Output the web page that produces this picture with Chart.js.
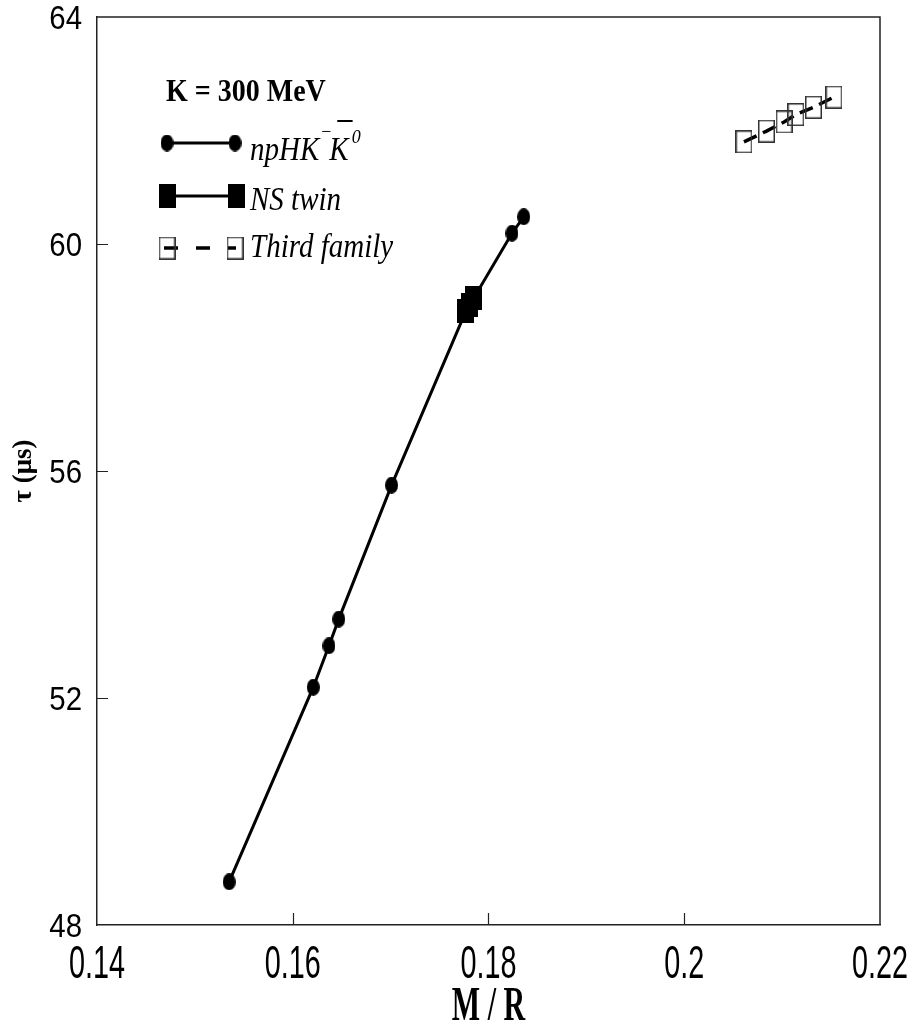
<!DOCTYPE html>
<html>
<head>
<meta charset="utf-8">
<script src="https://cdn.jsdelivr.net/npm/chart.js@4.4.0/dist/chart.umd.min.js"></script>
<style>
    html, body { margin: 0; padding: 0; background: #fff; }
    #wrap { width: 913px; height: 1033px; }
</style>
</head>
<body>
<div id="wrap"><canvas id="chart" width="913" height="1033"></canvas></div>
<script>
// tau vs M/R, K = 300 MeV
const mrNpHK = [0.1535, 0.1621, 0.1637, 0.1647, 0.1701, 0.1777, 0.1785, 0.1824, 0.1836];
const tauNpHK = [48.76, 52.19, 52.92, 53.39, 55.75, 58.82, 59.05, 60.19, 60.48];

const mrTwin = [0.1777, 0.1781, 0.1785];
const tauTwin = [58.82, 58.93, 59.05];

const mrThird = [0.2061, 0.2084, 0.2102, 0.2114, 0.2132, 0.2153];
const tauThird = [61.80, 61.99, 62.15, 62.28, 62.41, 62.59];

const xTickValues = [0.14, 0.16, 0.18, 0.2, 0.22];
const xTickLabels = ['0.14', '0.16', '0.18', '0.2', '0.22'];
const yTickValues = [48, 52, 56, 60, 64];
const yTickLabels = ['48', '52', '56', '60', '64'];

function toPoints(xs, ys) {
    return xs.map((x, i) => ({ x: x, y: ys[i] }));
}

function makeMarker(w, h, draw) {
    const c = document.createElement('canvas');
    c.width = w;
    c.height = h;
    draw(c.getContext('2d'), w, h);
    return c;
}

const dot = makeMarker(13, 17, (g, w, h) => {
    g.fillStyle = '#000';
    g.beginPath();
    g.ellipse(w / 2, h / 2, w / 2, h / 2, 0, 0, Math.PI * 2);
    g.fill();
});
const solidBox = makeMarker(17, 24, (g, w, h) => {
    g.fillStyle = '#000';
    g.fillRect(0, 0, w, h);
});
const openBox = makeMarker(17, 23, (g, w, h) => {
    g.strokeStyle = '#333';
    g.lineWidth = 1.5;
    g.strokeRect(0.75, 0.75, w - 1.5, h - 1.5);
});

// the original figure uses tall, condensed lettering
function stretchedText(ctx, text, x, y, font, sx, sy, align) {
    ctx.save();
    ctx.translate(x, y);
    ctx.scale(sx, sy);
    ctx.font = font;
    ctx.textAlign = align || 'left';
    ctx.fillText(text, 0, 0);
    const w = ctx.measureText(text).width * sx;
    ctx.restore();
    return w;
}

// frame, inward ticks, tick labels, x title and the legend inside the plot
const framePlugin = {
    id: 'frame',
    afterDraw(chart) {
        const ctx = chart.ctx;
        const a = chart.chartArea;
        const xs = chart.scales.x;
        const ys = chart.scales.y;

        ctx.save();
        ctx.strokeStyle = '#222';
        ctx.lineWidth = 1.5;
        ctx.beginPath();
        ctx.moveTo(a.left, a.top);
        ctx.lineTo(a.right, a.top);
        ctx.lineTo(a.right, a.bottom);
        ctx.stroke();

        ctx.lineWidth = 1.2;
        ctx.beginPath();
        yTickValues.slice(1, -1).forEach(v => {
            const py = Math.round(ys.getPixelForValue(v)) + 0.5;
            ctx.moveTo(a.left, py);
            ctx.lineTo(a.left + 11, py);
        });
        xTickValues.slice(1, -1).forEach(v => {
            const px = Math.round(xs.getPixelForValue(v)) + 0.5;
            ctx.moveTo(px, a.bottom);
            ctx.lineTo(px, a.bottom - 12);
        });
        ctx.stroke();

        ctx.fillStyle = '#000';
        ctx.strokeStyle = '#000';
        ctx.textBaseline = 'alphabetic';

        const tickFont = '32px "Liberation Sans"';
        yTickValues.forEach((v, i) => {
            const py = ys.getPixelForValue(v);
            stretchedText(ctx, yTickLabels[i], a.left - 15, py + 12, tickFont, 0.92, 1.05, 'right');
        });
        xTickValues.forEach((v, i) => {
            const px = xs.getPixelForValue(v);
            stretchedText(ctx, xTickLabels[i], px, a.bottom + 53, '36px "Liberation Sans"', 0.8, 1.3, 'center');
        });

        stretchedText(ctx, 'M / R', (a.left + a.right) / 2, 1020, 'bold 30px "Liberation Serif"', 1, 1.6, 'center');

        // legend
        stretchedText(ctx, 'K = 300 MeV', 166, 101, 'bold 28px "Liberation Serif"', 1, 1.1);

        const it = 'italic 29px "Liberation Serif"';
        const sup = 'italic 18px "Liberation Serif"';

        // row 1
        ctx.lineWidth = 3;
        ctx.setLineDash([]);
        ctx.beginPath();
        ctx.moveTo(167, 143);
        ctx.lineTo(235, 143);
        ctx.stroke();
        ctx.drawImage(dot, 167 - 6.5, 143 - 8.5);
        ctx.drawImage(dot, 235 - 6.5, 143 - 8.5);
        const w = stretchedText(ctx, 'npHK', 250, 160, it, 1, 1.15);
        stretchedText(ctx, '\u2212', 250 + w + 1, 138, sup, 1, 1.1);
        const kx = 250 + w + 10;
        const kw = stretchedText(ctx, 'K', kx, 160, it, 1, 1.15);
        ctx.lineWidth = 2;
        ctx.beginPath();
        ctx.moveTo(kx + 8, 121);
        ctx.lineTo(kx + kw + 4, 121);
        ctx.stroke();
        stretchedText(ctx, '0', kx + kw + 3, 143, sup, 1, 1.1);

        // row 2
        ctx.lineWidth = 3;
        ctx.beginPath();
        ctx.moveTo(167, 196);
        ctx.lineTo(236, 196);
        ctx.stroke();
        ctx.drawImage(solidBox, 167 - 8.5, 196 - 12);
        ctx.drawImage(solidBox, 236 - 8.5, 196 - 12);
        stretchedText(ctx, 'NS twin', 250, 210, it, 1, 1.15);

        // row 3
        ctx.lineWidth = 3.5;
        ctx.setLineDash([14, 18]);
        ctx.beginPath();
        ctx.moveTo(164, 248);
        ctx.lineTo(236, 248);
        ctx.stroke();
        ctx.setLineDash([]);
        ctx.drawImage(openBox, 167 - 8.5, 248 - 11.5);
        ctx.drawImage(openBox, 235 - 8.5, 248 - 11.5);
        stretchedText(ctx, 'Third family', 250, 257, it, 1, 1.15);
        ctx.restore();
    }
};

const ctx = document.getElementById('chart').getContext('2d');
new Chart(ctx, {
    type: 'scatter',
    data: {
        datasets: [
            {
                label: 'NS twin',
                data: toPoints(mrTwin, tauTwin),
                showLine: true,
                borderColor: '#000',
                borderWidth: 3,
                pointStyle: solidBox,
                pointRadius: 8,
                order: 0
            },
            {
                label: 'npHK-K0',
                data: toPoints(mrNpHK, tauNpHK),
                showLine: true,
                borderColor: '#000',
                borderWidth: 3,
                pointStyle: dot,
                pointRadius: 7,
                order: 1
            },
            {
                label: 'Third family',
                data: toPoints(mrThird, tauThird),
                showLine: true,
                borderColor: '#000',
                borderWidth: 3.5,
                borderDash: [14, 7],
                pointStyle: openBox,
                pointRadius: 8,
                order: 2
            }
        ]
    },
    options: {
        responsive: false,
        devicePixelRatio: 1,
        animation: false,
        layout: {
            padding: { top: 17, right: 33, left: 0, bottom: 0 }
        },
        scales: {
            x: {
                type: 'linear',
                min: 0.14,
                max: 0.22,
                afterBuildTicks: s => { s.ticks = xTickValues.map(v => ({ value: v })); },
                afterFit: s => { s.height = 108; },
                ticks: { display: false },
                grid: { display: true, drawOnChartArea: false, drawTicks: false },
                border: { display: true, color: '#222', width: 1.5 },
                title: { display: false }
            },
            y: {
                type: 'linear',
                min: 48,
                max: 64,
                afterBuildTicks: s => { s.ticks = yTickValues.map(v => ({ value: v })); },
                afterFit: s => { s.width = 97; },
                ticks: { display: false },
                grid: { display: true, drawOnChartArea: false, drawTicks: false },
                border: { display: true, color: '#222', width: 1.5 },
                title: {
                    display: true,
                    text: 'τ (μs)',
                    color: '#000',
                    padding: { top: 8, bottom: 0 },
                    font: { family: '"Liberation Serif"', size: 27, weight: 'bold' }
                }
            }
        },
        plugins: {
            legend: { display: false },
            tooltip: { enabled: false }
        }
    },
    plugins: [framePlugin]
});
</script>
</body>
</html>
